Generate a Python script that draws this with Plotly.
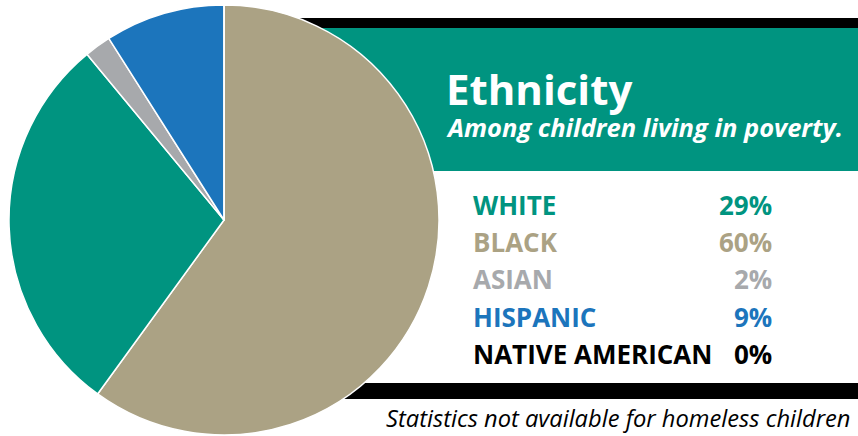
import plotly.graph_objects as go

W, H = 858, 436

# ---- data ----
categories = ["BLACK", "WHITE", "ASIAN", "HISPANIC", "NATIVE AMERICAN"]
values = [60, 29, 2, 9, 0]
colors = ["#ABA284", "#009480", "#A7A9AC", "#1C75BC", "#000000"]
legend_order = ["WHITE", "BLACK", "ASIAN", "HISPANIC", "NATIVE AMERICAN"]
title_text = "Ethnicity"
subtitle_text = "Among children living in poverty."
footer_text = "Statistics not available for homeless children"

def px(x):
    return x / W

def py(y):
    return 1 - y / H

fig = go.Figure()
fig.add_trace(go.Pie(
    labels=categories,
    values=values,
    marker=dict(colors=colors, line=dict(color="white", width=1.5)),
    sort=False,
    direction="clockwise",
    rotation=0,
    textinfo="none",
    hoverinfo="label+percent",
    domain=dict(x=[px(9), px(439)], y=[py(435), py(5)]),
    showlegend=False,
))

shapes = [
    dict(type="rect", xref="paper", yref="paper", x0=px(224), x1=px(858), y0=py(28), y1=py(18),
         fillcolor="black", line=dict(width=0), layer="below"),
    dict(type="rect", xref="paper", yref="paper", x0=px(224), x1=px(858), y0=py(171), y1=py(28),
         fillcolor="#009480", line=dict(width=0), layer="below"),
    dict(type="rect", xref="paper", yref="paper", x0=px(224), x1=px(858), y0=py(399), y1=py(383),
         fillcolor="black", line=dict(width=0), layer="below"),
]

ann = []
ann.append(dict(text="<b>" + title_text + "</b>", x=px(444), y=py(119), xref="paper", yref="paper",
                xanchor="left", yanchor="bottom", showarrow=False,
                font=dict(family="Open Sans", size=42, color="white")))
ann.append(dict(text="<b><i>" + subtitle_text + "</i></b>", x=px(444), y=py(146), xref="paper", yref="paper",
                xanchor="left", yanchor="bottom", showarrow=False,
                font=dict(family="Open Sans", size=25.5, color="white")))

baselines = [215, 252, 289, 327, 364]
col_map = dict(zip(categories, colors))
val_map = dict(zip(categories, values))
for name, yb in zip(legend_order, baselines):
    c = col_map[name]
    ann.append(dict(text="<b>" + name + "</b>", x=px(471), y=py(yb + 10), xref="paper", yref="paper",
                    xanchor="left", yanchor="bottom", showarrow=False,
                    font=dict(family="Open Sans", size=26, color=c)))
    ann.append(dict(text="<b>%d%%</b>" % val_map[name], x=px(774), y=py(yb + 10), xref="paper", yref="paper",
                    xanchor="right", yanchor="bottom", showarrow=False,
                    font=dict(family="Open Sans", size=26, color=c)))

ann.append(dict(text="<i>" + footer_text + "</i>", x=px(852), y=py(436), xref="paper", yref="paper",
                xanchor="right", yanchor="bottom", showarrow=False,
                font=dict(family="Open Sans", size=23.7, color="black")))

fig.update_layout(
    width=W, height=H,
    margin=dict(l=0, r=0, t=0, b=0),
    paper_bgcolor="white", plot_bgcolor="white",
    shapes=shapes, annotations=ann,
)

fig.write_html("out.html", config={"displayModeBar": False},
               post_script="document.body.style.margin='0';document.body.style.overflow='hidden';")
